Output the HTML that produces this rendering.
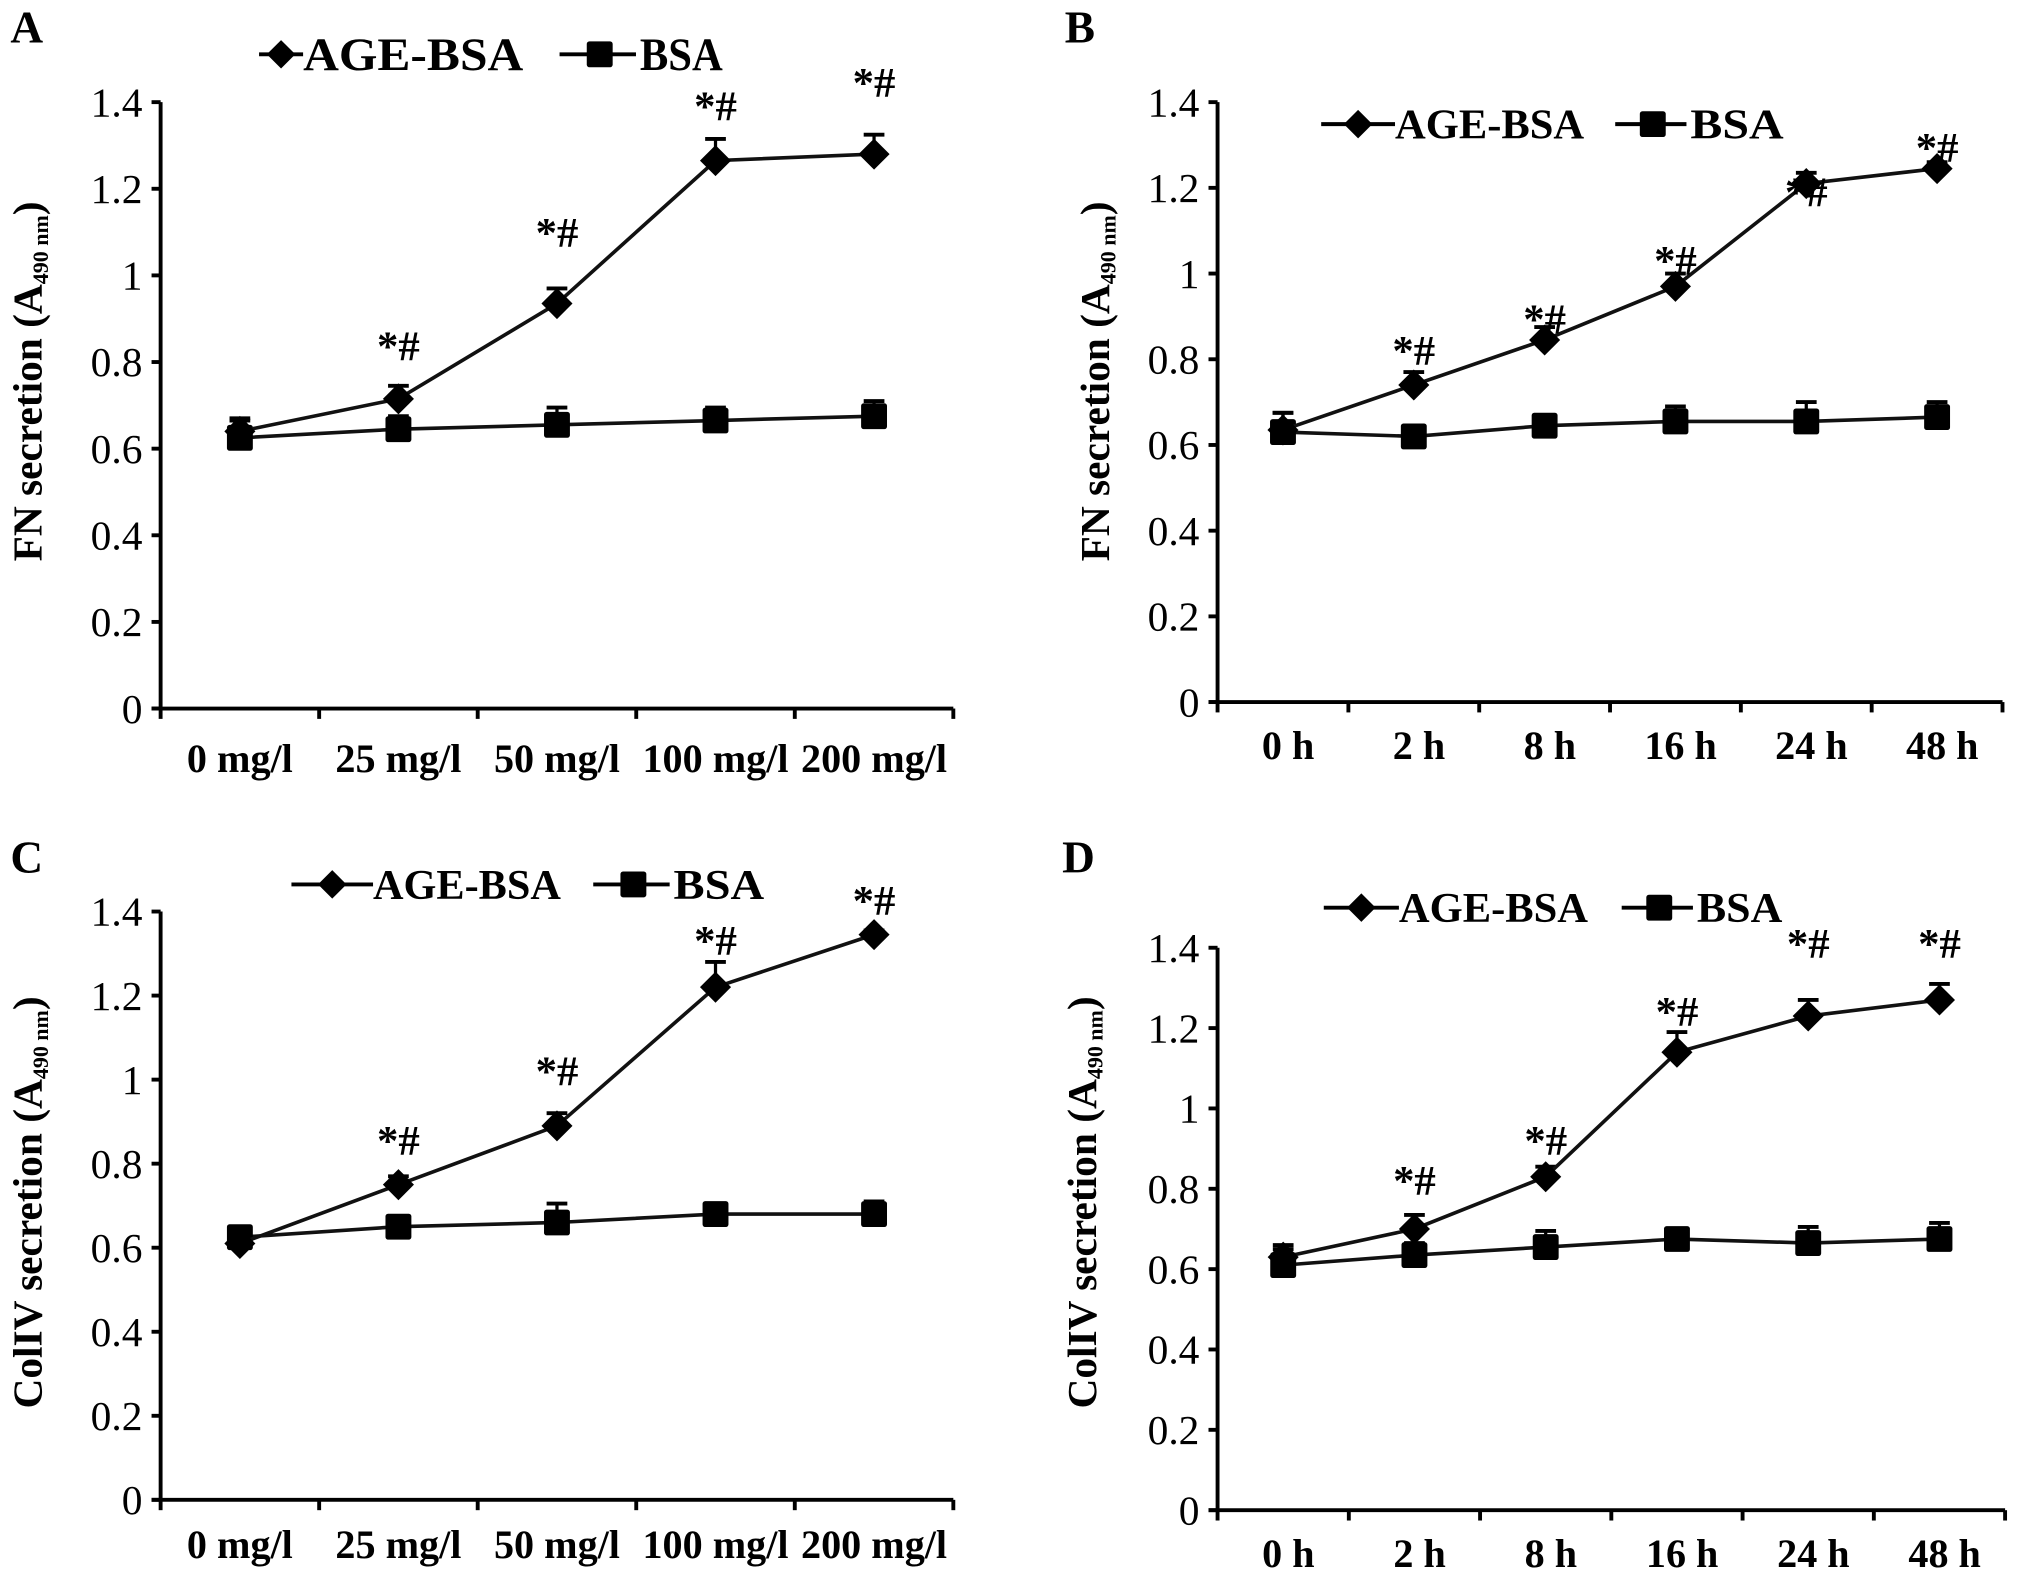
<!DOCTYPE html>
<html><head><meta charset="utf-8"><style>
html,body{margin:0;padding:0;background:#fff;}
svg{display:block;}
text{font-family:"Liberation Serif",serif;fill:#000;}
</style></head><body>
<svg id="fig" width="2031" height="1580" viewBox="0 0 1568 1222" preserveAspectRatio="none"></svg>
<script>
const yTicks=[0,0.2,0.4,0.6,0.8,1,1.2,1.4];
const yTickLabels=["0","0.2","0.4","0.6","0.8","1","1.2","1.4"];
const catsDose=["0 mg/l","25 mg/l","50 mg/l","100 mg/l","200 mg/l"];
const catsTime=["0 h","2 h","8 h","16 h","24 h","48 h"];
const aAge=[0.64,0.715,0.935,1.265,1.28];
const aAgeErr=[0.03,0.03,0.035,0.05,0.045];
const aBsa=[0.625,0.645,0.655,0.665,0.675];
const aBsaErr=[0.04,0.03,0.04,0.03,0.035];
const aSig=[null,0.836,1.098,1.39,1.445];
const bAge=[0.635,0.74,0.845,0.97,1.21,1.245];
const bAgeErr=[0.04,0.03,0.03,0.03,0.025,0.015];
const bBsa=[0.63,0.62,0.645,0.655,0.655,0.665];
const bBsaErr=[0.045,0.02,0.015,0.035,0.045,0.035];
const bSig=[null,0.82,0.893,1.03,1.19,1.294];
const cAge=[0.61,0.75,0.89,1.22,1.345];
const cAgeErr=[0.0,0.02,0.03,0.06,0.01];
const cBsa=[0.625,0.65,0.66,0.68,0.68];
const cBsaErr=[0.02,0.02,0.045,0.02,0.03];
const cSig=[null,0.855,1.02,1.33,1.425];
const dAge=[0.63,0.70,0.83,1.14,1.23,1.27];
const dAgeErr=[0.03,0.035,0.025,0.05,0.04,0.04];
const dBsa=[0.61,0.635,0.655,0.675,0.665,0.675];
const dBsaErr=[0.04,0.03,0.04,0.01,0.04,0.04];
const dSig=[null,0.82,0.92,1.24,1.41,1.41];

const NS="http://www.w3.org/2000/svg";
const svg=document.getElementById('fig');
function mk(tag,attrs,parent,txt){const e=document.createElementNS(NS,tag);for(const k in attrs)e.setAttribute(k,attrs[k]);if(txt!=null)e.textContent=txt;(parent||svg).appendChild(e);return e;}

const panels=[
 {id:'a',letter:'A',lx:8,ly:33,x0:124,x1:736,y0:548,y1:79,cats:catsDose,age:aAge,ageE:aAgeErr,bsa:aBsa,bsaE:aBsaErr,sig:aSig,title:'FN',tx:32,ty:295,xly:597,leg:{y:42,l1:200,t1:234,w1:170,l2:432,t2:494,w2:64,fs:36}},
 {id:'b',letter:'B',lx:822,ly:33,x0:940,x1:1546,y0:543,y1:79,cats:catsTime,age:bAge,ageE:bAgeErr,bsa:bBsa,bsaE:bBsaErr,sig:bSig,title:'FN',tx:856,ty:295,xly:587,leg:{y:96,l1:1020,t1:1077,w1:146,l2:1247,t2:1305,w2:72,fs:33}},
 {id:'c',letter:'C',lx:8,ly:675,x0:124,x1:736,y0:1160,y1:705,cats:catsDose,age:cAge,ageE:cAgeErr,bsa:cBsa,bsaE:cBsaErr,sig:cSig,title:'ColIV',tx:32,ty:930,xly:1205,leg:{y:684,l1:225,t1:288,w1:145,l2:458,t2:520,w2:70,fs:33}},
 {id:'d',letter:'D',lx:820,ly:675,x0:940,x1:1548,y0:1168,y1:733,cats:catsTime,age:dAge,ageE:dAgeErr,bsa:dBsa,bsaE:dBsaErr,sig:dSig,title:'ColIV',tx:846,ty:930,xly:1212,leg:{y:702,l1:1022,t1:1080,w1:146,l2:1252,t2:1310,w2:66,fs:33}}
];

function diamond(g,x,y,s){return mk('path',{d:`M${x} ${y-s}L${x+s} ${y}L${x} ${y+s}L${x-s} ${y}Z`,fill:'#000'},g);}
function square(g,x,y,s){return mk('rect',{x:x-s,y:y-s,width:2*s,height:2*s,rx:2,fill:'#000'},g);}

panels.forEach(p=>{
  const g=mk('g',{});
  
  
  const yS=v=>p.y0+(p.y1-p.y0)*v/1.4;
  const n=p.cats.length, w=(p.x1-p.x0)/n;
  const xS=i=>p.x0+w*(i+0.5);
  const L=mk('text',{x:p.lx,y:p.ly,'font-size':35,'font-weight':'bold'},g,p.letter);
  
  
  const ya=mk('line',{x1:p.x0,y1:p.y0,x2:p.x0,y2:p.y1,stroke:'#000','stroke-width':3},g);
  
  
  const xa=mk('line',{x1:p.x0-7,y1:p.y0,x2:p.x1,y2:p.y0,stroke:'#000','stroke-width':3},g);
  
  
  yTicks.forEach((t,i)=>{
    mk('line',{x1:p.x0-7,y1:yS(t),x2:p.x0,y2:yS(t),stroke:'#000','stroke-width':3},g);
    const tl=mk('text',{x:p.x0-14,y:yS(t)+11,'font-size':32,'text-anchor':'end'},g,yTickLabels[i]);
    
    
  });
  for(let i=0;i<=n;i++){mk('line',{x1:p.x0+w*i,y1:p.y0,x2:p.x0+w*i,y2:p.y0+8,stroke:'#000','stroke-width':3},g);}
  p.cats.forEach((c,i)=>{
    const tl=mk('text',{x:xS(i)+(p.cats.length===5?0:4),y:p.xly,'font-size':31,'font-weight':'bold','text-anchor':'middle'},g,c);
    
    
  });
  const tt=mk('text',{transform:`translate(${p.tx},${p.ty}) rotate(-90)`,'font-size':32,'font-weight':'bold','text-anchor':'middle'},g);
  
  
  mk('tspan',{},tt,p.title+' secretion (A');
  mk('tspan',{'font-size':17,dy:5},tt,'490 nm');
  mk('tspan',{dy:-5},tt,')');
  [[p.bsa,p.bsaE,'bsa'],[p.age,p.ageE,'age-bsa']].forEach(([vals,errs,nm])=>{
    const sg=mk('g',{},g);
    
    
    vals.forEach((v,i)=>{
      const x=xS(i),y=yS(v),ye=yS(v+errs[i]);
      if(errs[i]>0){mk('line',{x1:x,y1:y,x2:x,y2:ye,stroke:'#000','stroke-width':2.5},sg);
      mk('line',{x1:x-8,y1:ye,x2:x+8,y2:ye,stroke:'#000','stroke-width':3},sg);}
    });
    mk('polyline',{points:vals.map((v,i)=>xS(i)+','+yS(v)).join(' '),fill:'none',stroke:'#111','stroke-width':2.8},sg);
    vals.forEach((v,i)=>{
      const m=nm==='bsa'?square(sg,xS(i),yS(v),10):diamond(sg,xS(i),yS(v),12);
      
      
    });
  });
  p.sig.forEach((s,i)=>{
    if(s==null)return;
    const t=mk('text',{x:xS(i),y:yS(s)+11,'font-size':33,'font-weight':'bold','text-anchor':'middle'},g,'*#');
    
    
  });
  const lg=mk('g',{},g);
  
  
  const ly=p.leg.y, fs=p.leg.fs;
  mk('line',{x1:p.leg.l1,y1:ly,x2:p.leg.t1,y2:ly,stroke:'#000','stroke-width':3},lg);
  diamond(lg,(p.leg.l1+p.leg.t1)/2,ly,11);
  const t1=mk('text',{x:p.leg.t1,y:ly+fs*0.34,'font-size':fs,'font-weight':'bold',textLength:p.leg.w1,lengthAdjust:'spacingAndGlyphs'},lg,'AGE-BSA');
  
  
  mk('line',{x1:p.leg.l2,y1:ly,x2:p.leg.t2-3,y2:ly,stroke:'#000','stroke-width':3},lg);
  square(lg,(p.leg.l2+p.leg.t2)/2,ly,10);
  const t2=mk('text',{x:p.leg.t2,y:ly+fs*0.34,'font-size':fs,'font-weight':'bold',textLength:p.leg.w2,lengthAdjust:'spacingAndGlyphs'},lg,'BSA');
  
  
});
</script>
</body></html>
